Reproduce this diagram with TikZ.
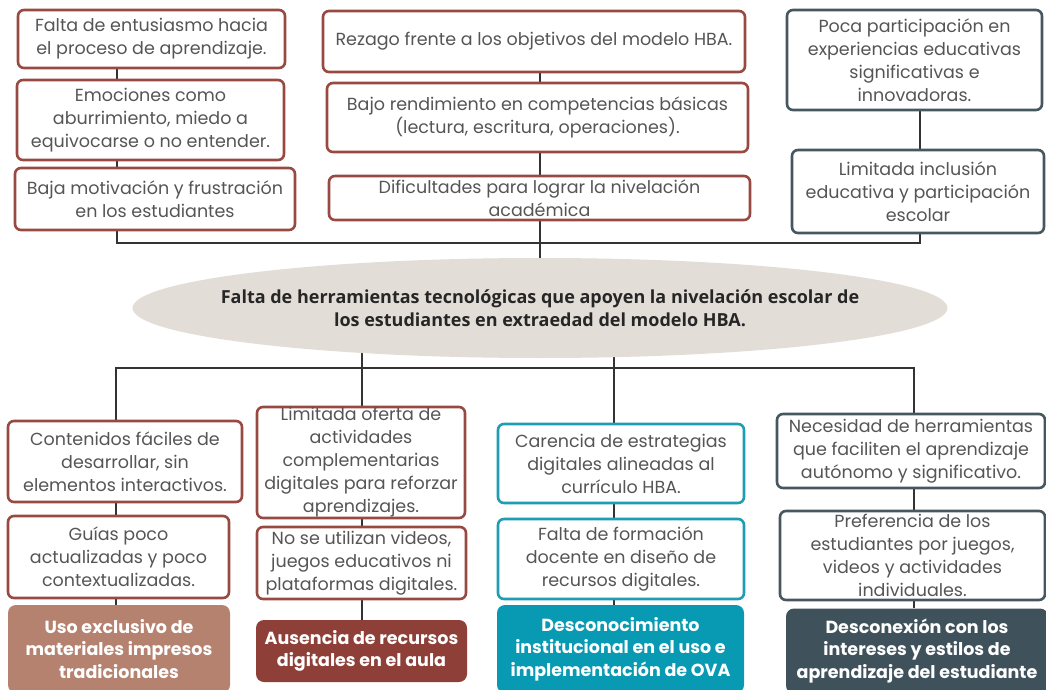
\documentclass[tikz,border=0pt]{standalone}
\usepackage{fontspec}
\setmainfont{Poppins}
\newfontfamily\ellipsefont{Open Sans}
\usetikzlibrary{shapes.geometric,backgrounds}

\definecolor{brick}{HTML}{984A42}
\definecolor{brickfill}{HTML}{8E3F37}
\definecolor{tan}{HTML}{B5826F}
\definecolor{teal}{HTML}{1F9DB3}
\definecolor{tealfill}{HTML}{0899B3}
\definecolor{slate}{HTML}{46575F}
\definecolor{slatefill}{HTML}{3F525B}
\definecolor{sand}{HTML}{E3DDD8}
\definecolor{ink}{HTML}{555555}
\definecolor{wire}{HTML}{333333}

\tikzset{
  box/.style={rectangle, rounded corners=6pt, line width=2.6pt, fill=white,
    align=center, text=ink, inner sep=0pt,
    font=\fontsize{17.5}{23}\selectfont},
  redbox/.style={box, draw=brick},
  tealbox/.style={box, draw=teal},
  slatebox/.style={box, draw=slate},
  solid box/.style={rectangle, rounded corners=8pt, draw=none, align=center,
    text=white, inner sep=0pt,
    font=\fontsize{17.5}{22.5}\selectfont\bfseries},
  wire/.style={draw=wire, line width=1.1pt},
}

\begin{document}
\begin{tikzpicture}[x=1pt,y=-1pt]
\useasboundingbox (0,0) rectangle (1046,690);

% upper left column
\node[redbox, minimum width=267, minimum height=58] (a1) at (151.5,39)
  {Falta de entusiasmo hacia\\el proceso de aprendizaje.};
\node[redbox, minimum width=267, minimum height=80] (a2) at (150.5,120)
  {Emociones como\\aburrimiento, miedo a\\equivocarse o no entender.};
\node[redbox, minimum width=280, minimum height=62] (a3) at (155,199)
  {Baja motivación y frustración\\en los estudiantes};

% upper middle column
\node[redbox, minimum width=422, minimum height=61] (b1) at (534,41.5)
  {Rezago frente a los objetivos del modelo HBA.};
\node[redbox, minimum width=421, minimum height=69] (b2) at (537.5,117.5)
  {Bajo rendimiento en competencias básicas\\(lectura, escritura, operaciones).};
\node[redbox, minimum width=421, minimum height=44] (b3) at (539.5,198)
  {Dificultades para lograr la nivelación\\académica};

% upper right column
\node[slatebox, minimum width=255, minimum height=100] (c1) at (914.5,60)
  {Poca participación en\\experiencias educativas\\significativas e\\innovadoras.};
\node[slatebox, minimum width=252, minimum height=83] (c2) at (918,191.5)
  {Limitada inclusión\\educativa y participación\\escolar};

% central problem: the ellipse and its two-line statement
\node[ellipse, fill=sand, minimum width=815, minimum height=100, inner sep=0pt]
  (core) at (540,308) {};
\node[align=center, text=black!85, inner sep=0pt,
  font=\ellipsefont\bfseries\fontsize{18}{23}\selectfont]
  (coretext) at (core.center)
  {Falta de herramientas tecnológicas que apoyen la nivelación escolar de\\
   los estudiantes en extraedad del modelo HBA.};

% lower column 1
\node[redbox, minimum width=234, minimum height=81] (d1) at (125,461.5)
  {Contenidos fáciles de\\desarrollar, sin\\elementos interactivos.};
\node[redbox, minimum width=221, minimum height=82] (d2) at (118.5,557)
  {Guías poco\\actualizadas y poco\\contextualizadas.};
\node[solid box, fill=tan, minimum width=222, minimum height=88] (d3) at (119,649)
  {Uso exclusivo de\\materiales impresos\\tradicionales};

% lower column 2
\node[redbox, minimum width=208, minimum height=111] (e1) at (361,462.5)
  {Limitada oferta de\\actividades\\complementarias\\digitales para reforzar\\aprendizajes.};
\node[redbox, minimum width=209, minimum height=72] (e2) at (361.5,563)
  {No se utilizan videos,\\juegos educativos ni\\plataformas digitales.};
\node[solid box, fill=brickfill, minimum width=211, minimum height=62] (e3) at (361.5,651)
  {Ausencia de recursos\\digitales en el aula};

% lower column 3
\node[tealbox, minimum width=246, minimum height=79] (f1) at (621,463.5)
  {Carencia de estrategias\\digitales alineadas al\\currículo HBA.};
\node[tealbox, minimum width=246, minimum height=80] (f2) at (621,559)
  {Falta de formación\\docente en diseño de\\recursos digitales.};
\node[solid box, fill=tealfill, minimum width=247, minimum height=88] (f3) at (620.5,649)
  {Desconocimiento\\institucional en el uso e\\implementación de OVA};

% lower column 4
\node[slatebox, minimum width=268, minimum height=74] (g1) at (911,451)
  {Necesidad de herramientas\\que faciliten el aprendizaje\\autónomo y significativo.};
\node[slatebox, minimum width=265, minimum height=89] (g2) at (912.5,555.5)
  {Preferencia de los\\estudiantes por juegos,\\videos y actividades\\individuales.};
\node[solid box, fill=slatefill, minimum width=262, minimum height=85] (g3) at (917,651)
  {Desconexión con los\\intereses y estilos de\\aprendizaje del estudiante};

% bus junctions
\coordinate (upL) at (117,243);
\coordinate (upM) at (540,243);
\coordinate (upR) at (920,243);
\coordinate (loA) at (116,368);
\coordinate (loB) at (362,368);
\coordinate (loC) at (614,368);
\coordinate (loD) at (914,368);

\begin{scope}[on background layer]
  \fill[white] (0,0) rectangle (1046,690);
  % upper chains
  \draw[wire] (a1.south -| upL) -- (a2.north -| upL);
  \draw[wire] (a2.south -| upL) -- (a3.north -| upL);
  \draw[wire] (b1.south -| upM) -- (b2.north -| upM);
  \draw[wire] (b2.south -| upM) -- (b3.north -| upM);
  \draw[wire] (c1.south -| upR) -- (c2.north -| upR);
  % upper bus into the central ellipse
  \draw[wire] (a3.south -| upL) -- (upL) -- (upR) -- (c2.south -| upR);
  \draw[wire] (b3.south -| upM) -- (core.center -| upM);
  % lower bus out of the central ellipse
  \draw[wire] (core.center -| loB) -- (loB);
  \draw[wire] (core.center -| loC) -- (loC);
  \draw[wire] (d1.north -| loA) -- (loA) -- (loD) -- (g1.north -| loD);
  \draw[wire] (loB) -- (e1.north -| loB);
  \draw[wire] (loC) -- (f1.north -| loC);
  % lower chains
  \draw[wire] (d1.south -| loA) -- (d2.north -| loA);
  \draw[wire] (d2.south -| loA) -- (d3.north -| loA);
  \draw[wire] (e1.south -| loB) -- (e2.north -| loB);
  \draw[wire] (e2.south -| loB) -- (e3.north -| loB);
  \draw[wire] (f1.south -| loC) -- (f2.north -| loC);
  \draw[wire] (f2.south -| loC) -- (f3.north -| loC);
  \draw[wire] (g1.south -| loD) -- (g2.north -| loD);
  \draw[wire] (g2.south -| loD) -- (g3.north -| loD);
\end{scope}
\end{tikzpicture}
\end{document}
